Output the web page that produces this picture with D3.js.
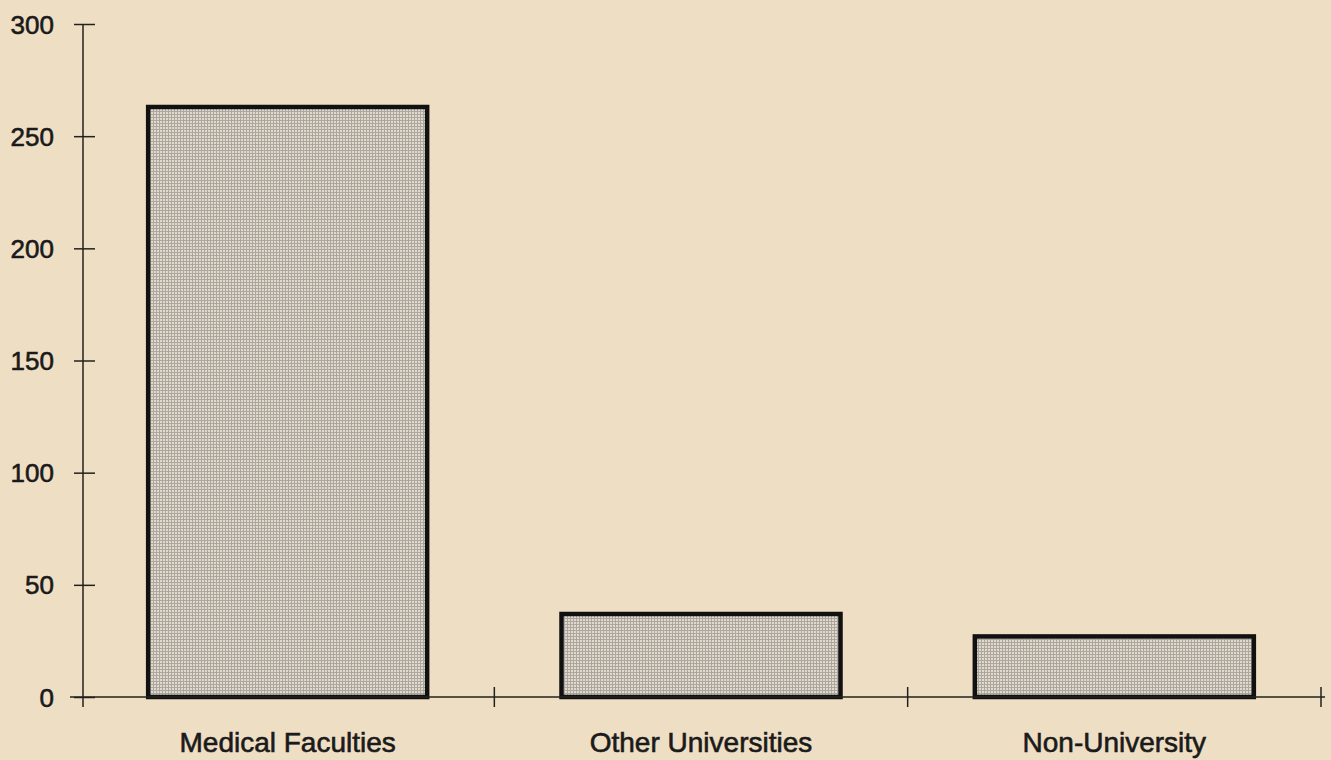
<!DOCTYPE html>
<html><head><meta charset="utf-8">
<script src="https://cdn.jsdelivr.net/npm/d3@7/dist/d3.min.js"></script>
<style>
html,body{margin:0;padding:0;background:#eedec4;}
svg{display:block;}
</style></head>
<body>
<svg id="c" width="1331" height="760"></svg>
<script>
const categories = ["Medical Faculties", "Other Universities", "Non-University"];
const values = [263, 37, 27];
const yTicks = [0, 50, 100, 150, 200, 250, 300];

const svg = d3.select("#c");
const W = 1331, H = 760;
svg.append("rect").attr("width", W).attr("height", H).attr("fill", "#eedec4");

const defs = svg.append("defs");
const pat = defs.append("pattern").attr("id", "stip").attr("patternUnits", "userSpaceOnUse")
  .attr("width", 3).attr("height", 3);
pat.append("rect").attr("width", 3).attr("height", 3).attr("fill", "#aca69c");
pat.append("rect").attr("x", 1).attr("y", 1).attr("width", 2).attr("height", 2).attr("fill", "#dfd9ce");

const x = d3.scaleBand().domain(categories).range([81, 1321]).paddingInner(0.325).paddingOuter(0.1625);
const y = d3.scaleLinear().domain([0, 300]).range([697, 24]);
const ink = "#22221c";
const font = "Liberation Sans, Arial, Helvetica, sans-serif";

// bars
svg.append("g").selectAll("rect").data(values).join("rect")
  .attr("x", (d, i) => x(categories[i]))
  .attr("y", d => y(d))
  .attr("width", x.bandwidth())
  .attr("height", d => y(0) - y(d))
  .attr("fill", "url(#stip)")
  .attr("stroke", "#111")
  .attr("stroke-width", 4.5);

// y axis
const ya = svg.append("g").attr("transform", "translate(83,0)")
  .call(d3.axisLeft(y).tickValues(yTicks).tickSize(9).tickPadding(20));
ya.select(".domain").remove();
ya.selectAll(".tick line").attr("x1", 12).attr("x2", -9).attr("stroke", ink).attr("stroke-width", 1.5);
ya.selectAll(".tick text").attr("font-family", font)
  .attr("font-size", 26).attr("fill", "#1a1a1a").attr("stroke", "#1a1a1a").attr("stroke-width", 0.6)
  .attr("x", -29).attr("dy", "0.35em");
svg.append("line").attr("x1", 83).attr("x2", 83).attr("y1", y(300)).attr("y2", 707)
  .attr("stroke", ink).attr("stroke-width", 1.5);

// x axis
svg.append("line").attr("x1", 70).attr("x2", 1325).attr("y1", y(0)).attr("y2", y(0))
  .attr("stroke", ink).attr("stroke-width", 1.5);
const bounds = categories.map(c => x(c) + x.bandwidth() / 2 + x.step() / 2);
svg.append("g").selectAll("line").data(bounds).join("line")
  .attr("x1", d => d).attr("x2", d => d).attr("y1", y(0) - 10).attr("y2", y(0) + 10)
  .attr("stroke", ink).attr("stroke-width", 1.5);
svg.append("g").selectAll("text").data(categories).join("text")
  .attr("x", d => x(d) + x.bandwidth() / 2)
  .attr("y", 752)
  .attr("text-anchor", "middle")
  .attr("font-family", font)
  .attr("font-size", 28)
  .attr("fill", "#1a1a1a").attr("stroke", "#1a1a1a").attr("stroke-width", 0.6)
  .text(d => d);
</script>
</body></html>
